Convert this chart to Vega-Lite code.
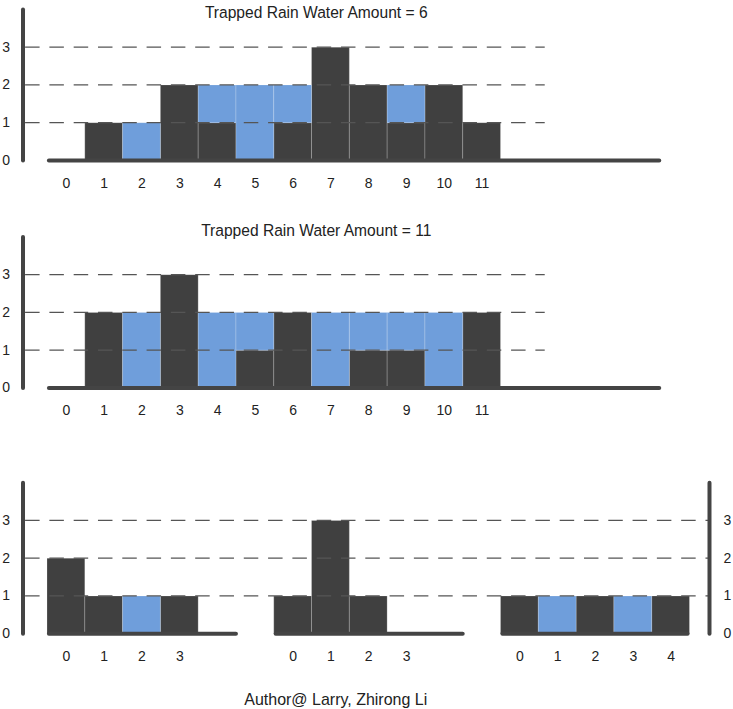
{
  "$schema": "https://vega.github.io/schema/vega-lite/v6.json",
  "background": "white",
  "padding": {"left": 1, "top": 6.4, "right": 0, "bottom": 0},
  "bounds": "flush",
  "spacing": 76.5,
  "config": {
    "view": {"stroke": null},
    "font": "Liberation Sans",
    "axis": {"labelFont": "Liberation Sans", "labelFontSize": 14, "labelColor": "#222", "domain": false, "ticks": false, "tickSize": 0, "grid": false},
    "title": {"font": "Liberation Sans", "fontSize": 15.6, "fontWeight": "normal", "color": "#222"}
  },
  "datasets": {
    "bars": [
      {"panel": "a", "pos": 1, "lo": 0, "hi": 1, "kind": "block"},
      {"panel": "a", "pos": 3, "lo": 0, "hi": 2, "kind": "block"},
      {"panel": "a", "pos": 4, "lo": 0, "hi": 1, "kind": "block"},
      {"panel": "a", "pos": 6, "lo": 0, "hi": 1, "kind": "block"},
      {"panel": "a", "pos": 7, "lo": 0, "hi": 3, "kind": "block"},
      {"panel": "a", "pos": 8, "lo": 0, "hi": 2, "kind": "block"},
      {"panel": "a", "pos": 9, "lo": 0, "hi": 1, "kind": "block"},
      {"panel": "a", "pos": 10, "lo": 0, "hi": 2, "kind": "block"},
      {"panel": "a", "pos": 11, "lo": 0, "hi": 1, "kind": "block"},
      {"panel": "a", "pos": 2, "lo": 0, "hi": 1, "kind": "water"},
      {"panel": "a", "pos": 4, "lo": 1, "hi": 2, "kind": "water"},
      {"panel": "a", "pos": 5, "lo": 0, "hi": 2, "kind": "water"},
      {"panel": "a", "pos": 6, "lo": 1, "hi": 2, "kind": "water"},
      {"panel": "a", "pos": 9, "lo": 1, "hi": 2, "kind": "water"},
      {"panel": "b", "pos": 1, "lo": 0, "hi": 2, "kind": "block"},
      {"panel": "b", "pos": 3, "lo": 0, "hi": 3, "kind": "block"},
      {"panel": "b", "pos": 5, "lo": 0, "hi": 1, "kind": "block"},
      {"panel": "b", "pos": 6, "lo": 0, "hi": 2, "kind": "block"},
      {"panel": "b", "pos": 8, "lo": 0, "hi": 1, "kind": "block"},
      {"panel": "b", "pos": 9, "lo": 0, "hi": 1, "kind": "block"},
      {"panel": "b", "pos": 11, "lo": 0, "hi": 2, "kind": "block"},
      {"panel": "b", "pos": 2, "lo": 0, "hi": 2, "kind": "water"},
      {"panel": "b", "pos": 4, "lo": 0, "hi": 2, "kind": "water"},
      {"panel": "b", "pos": 5, "lo": 1, "hi": 2, "kind": "water"},
      {"panel": "b", "pos": 7, "lo": 0, "hi": 2, "kind": "water"},
      {"panel": "b", "pos": 8, "lo": 1, "hi": 2, "kind": "water"},
      {"panel": "b", "pos": 9, "lo": 1, "hi": 2, "kind": "water"},
      {"panel": "b", "pos": 10, "lo": 0, "hi": 2, "kind": "water"},
      {"panel": "c", "pos": 0, "lo": 0, "hi": 2, "kind": "block"},
      {"panel": "c", "pos": 1, "lo": 0, "hi": 1, "kind": "block"},
      {"panel": "c", "pos": 3, "lo": 0, "hi": 1, "kind": "block"},
      {"panel": "c", "pos": 6, "lo": 0, "hi": 1, "kind": "block"},
      {"panel": "c", "pos": 7, "lo": 0, "hi": 3, "kind": "block"},
      {"panel": "c", "pos": 8, "lo": 0, "hi": 1, "kind": "block"},
      {"panel": "c", "pos": 12, "lo": 0, "hi": 1, "kind": "block"},
      {"panel": "c", "pos": 14, "lo": 0, "hi": 1, "kind": "block"},
      {"panel": "c", "pos": 16, "lo": 0, "hi": 1, "kind": "block"},
      {"panel": "c", "pos": 2, "lo": 0, "hi": 1, "kind": "water"},
      {"panel": "c", "pos": 13, "lo": 0, "hi": 1, "kind": "water"},
      {"panel": "c", "pos": 15, "lo": 0, "hi": 1, "kind": "water"}
    ],
    "grid": [{"level": 1}, {"level": 2}, {"level": 3}],
    "base": [
      {"panel": "a", "from": -0.45, "to": 15.7},
      {"panel": "b", "from": -0.45, "to": 15.7},
      {"panel": "c", "from": -0.45, "to": 4.5},
      {"panel": "c", "from": 5.55, "to": 10.5},
      {"panel": "c", "from": 11.55, "to": 16.45}
    ],
    "one": [{}]
  },
  "vconcat": [
    {
      "width": 686.5,
      "height": 151,
      "title": {"text": "Trapped Rain Water Amount = 6", "frame": "group", "anchor": "middle", "dx": -50, "offset": 0, "baseline": "alphabetic", "dy": 26.6},
      "layer": [
        {
          "data": {"name": "bars"},
          "transform": [{"filter": "datum.panel === 'a'"}],
          "mark": {"type": "bar", "width": 37.8, "stroke": "white", "strokeOpacity": 0.2, "strokeWidth": 1},
          "encoding": {
            "x": {"field": "pos", "type": "quantitative", "scale": {"domain": [-1.135, 17.03], "nice": false, "zero": false, "padding": 0}, "axis": {"values": [0,1,2,3,4,5,6,7,8,9,10,11], "labelPadding": 16, "format": "d", "title": null}},
            "y": {"field": "lo", "type": "quantitative", "scale": {"domain": [0, 4], "nice": false, "zero": false}, "axis": {"values": [0,1,2,3], "labelPadding": 13.5, "format": "d", "title": null}},
            "y2": {"field": "hi"},
            "color": {"field": "kind", "type": "nominal", "scale": {"domain": ["block", "water"], "range": ["#404040", "#6f9edb"]}, "legend": null}
          }
        },
        {
          "data": {"name": "grid"},
          "mark": {"type": "rule", "color": "#555", "strokeWidth": 1.3, "strokeDash": [14.5, 9.8]},
          "encoding": {
            "x": {"datum": -1.08, "type": "quantitative", "axis": {"values": [0,1,2,3,4,5,6,7,8,9,10,11], "labelPadding": 16, "format": "d", "title": null}},
            "x2": {"datum": 12.67},
            "y": {"field": "level", "type": "quantitative", "axis": {"values": [0,1,2,3], "labelPadding": 13.5, "format": "d", "title": null}}
          }
        },
        {
          "data": {"name": "base"},
          "transform": [{"filter": "datum.panel === 'a'"}],
          "mark": {"type": "rule", "color": "#444", "strokeWidth": 4, "strokeCap": "round"},
          "encoding": {
            "x": {"field": "from", "type": "quantitative", "axis": {"values": [0,1,2,3,4,5,6,7,8,9,10,11], "labelPadding": 16, "format": "d", "title": null}},
            "x2": {"field": "to"},
            "y": {"datum": 0, "type": "quantitative", "axis": {"values": [0,1,2,3], "labelPadding": 13.5, "format": "d", "title": null}}
          }
        },
        {
          "data": {"name": "one"},
          "mark": {"type": "rule", "color": "#444", "strokeWidth": 4, "strokeCap": "round"},
          "encoding": {
            "x": {"datum": -1.135, "type": "quantitative", "axis": {"values": [0,1,2,3,4,5,6,7,8,9,10,11], "labelPadding": 16, "format": "d", "title": null}},
            "y": {"datum": 0, "type": "quantitative", "axis": {"values": [0,1,2,3], "labelPadding": 13.5, "format": "d", "title": null}},
            "y2": {"datum": 4}
          }
        }
      ]
    },
    {
      "width": 686.5,
      "height": 151,
      "title": {"text": "Trapped Rain Water Amount = 11", "frame": "group", "anchor": "middle", "dx": -50, "offset": 0, "baseline": "alphabetic", "dy": 16.6},
      "layer": [
        {
          "data": {"name": "bars"},
          "transform": [{"filter": "datum.panel === 'b'"}],
          "mark": {"type": "bar", "width": 37.8, "stroke": "white", "strokeOpacity": 0.2, "strokeWidth": 1},
          "encoding": {
            "x": {"field": "pos", "type": "quantitative", "scale": {"domain": [-1.135, 17.03], "nice": false, "zero": false, "padding": 0}, "axis": {"values": [0,1,2,3,4,5,6,7,8,9,10,11], "labelPadding": 16, "format": "d", "title": null}},
            "y": {"field": "lo", "type": "quantitative", "scale": {"domain": [0, 4], "nice": false, "zero": false}, "axis": {"values": [0,1,2,3], "labelPadding": 13.5, "format": "d", "title": null}},
            "y2": {"field": "hi"},
            "color": {"field": "kind", "type": "nominal", "scale": {"domain": ["block", "water"], "range": ["#404040", "#6f9edb"]}, "legend": null}
          }
        },
        {
          "data": {"name": "grid"},
          "mark": {"type": "rule", "color": "#555", "strokeWidth": 1.3, "strokeDash": [14.5, 9.8]},
          "encoding": {
            "x": {"datum": -1.08, "type": "quantitative", "axis": {"values": [0,1,2,3,4,5,6,7,8,9,10,11], "labelPadding": 16, "format": "d", "title": null}},
            "x2": {"datum": 12.67},
            "y": {"field": "level", "type": "quantitative", "axis": {"values": [0,1,2,3], "labelPadding": 13.5, "format": "d", "title": null}}
          }
        },
        {
          "data": {"name": "base"},
          "transform": [{"filter": "datum.panel === 'b'"}],
          "mark": {"type": "rule", "color": "#444", "strokeWidth": 4, "strokeCap": "round"},
          "encoding": {
            "x": {"field": "from", "type": "quantitative", "axis": {"values": [0,1,2,3,4,5,6,7,8,9,10,11], "labelPadding": 16, "format": "d", "title": null}},
            "x2": {"field": "to"},
            "y": {"datum": 0, "type": "quantitative", "axis": {"values": [0,1,2,3], "labelPadding": 13.5, "format": "d", "title": null}}
          }
        },
        {
          "data": {"name": "one"},
          "mark": {"type": "rule", "color": "#444", "strokeWidth": 4, "strokeCap": "round"},
          "encoding": {
            "x": {"datum": -1.135, "type": "quantitative", "axis": {"values": [0,1,2,3,4,5,6,7,8,9,10,11], "labelPadding": 16, "format": "d", "title": null}},
            "y": {"datum": 0, "type": "quantitative", "axis": {"values": [0,1,2,3], "labelPadding": 13.5, "format": "d", "title": null}},
            "y2": {"datum": 4}
          }
        }
      ]
    },
    {
      "width": 686.5,
      "height": 169.3,
      "title": {"text": "Author@ Larry, Zhirong Li", "orient": "bottom", "frame": "group", "anchor": "middle", "dx": -30.5, "offset": 28, "fontSize": 16},
      "resolve": {"axis": {"y": "independent"}},
      "layer": [
        {
          "data": {"name": "bars"},
          "transform": [{"filter": "datum.panel === 'c'"}],
          "mark": {"type": "bar", "width": 37.8, "stroke": "white", "strokeOpacity": 0.2, "strokeWidth": 1},
          "encoding": {
            "x": {"field": "pos", "type": "quantitative", "scale": {"domain": [-1.135, 17.03], "nice": false, "zero": false, "padding": 0}, "axis": {"values": [0,1,2,3,6,7,8,9,12,13,14,15,16], "labelPadding": 16, "labelExpr": "datum.value >= 12 ? datum.value - 12 : (datum.value >= 6 ? datum.value - 6 : datum.value)", "title": null}},
            "y": {"field": "lo", "type": "quantitative", "scale": {"domain": [0, 4.485], "nice": false, "zero": false}, "axis": {"values": [0,1,2,3], "labelPadding": 13.5, "format": "d", "title": null}},
            "y2": {"field": "hi"},
            "color": {"field": "kind", "type": "nominal", "scale": {"domain": ["block", "water"], "range": ["#404040", "#6f9edb"]}, "legend": null}
          }
        },
        {
          "data": {"name": "grid"},
          "mark": {"type": "rule", "color": "#555", "strokeWidth": 1.3, "strokeDash": [14.5, 9.8]},
          "encoding": {
            "x": {"datum": -1.08, "type": "quantitative", "axis": {"values": [0,1,2,3,6,7,8,9,12,13,14,15,16], "labelPadding": 16, "labelExpr": "datum.value >= 12 ? datum.value - 12 : (datum.value >= 6 ? datum.value - 6 : datum.value)", "title": null}},
            "x2": {"datum": 17.03},
            "y": {"field": "level", "type": "quantitative", "axis": null}
          }
        },
        {
          "data": {"name": "base"},
          "transform": [{"filter": "datum.panel === 'c'"}],
          "mark": {"type": "rule", "color": "#444", "strokeWidth": 4, "strokeCap": "round"},
          "encoding": {
            "x": {"field": "from", "type": "quantitative", "axis": {"values": [0,1,2,3,6,7,8,9,12,13,14,15,16], "labelPadding": 16, "labelExpr": "datum.value >= 12 ? datum.value - 12 : (datum.value >= 6 ? datum.value - 6 : datum.value)", "title": null}},
            "x2": {"field": "to"},
            "y": {"datum": 0, "type": "quantitative", "axis": null}
          }
        },
        {
          "data": {"name": "one"},
          "mark": {"type": "rule", "color": "#444", "strokeWidth": 4, "strokeCap": "round"},
          "encoding": {
            "x": {"datum": -1.135, "type": "quantitative", "axis": {"values": [0,1,2,3,6,7,8,9,12,13,14,15,16], "labelPadding": 16, "labelExpr": "datum.value >= 12 ? datum.value - 12 : (datum.value >= 6 ? datum.value - 6 : datum.value)", "title": null}},
            "y": {"datum": 0, "type": "quantitative", "axis": null},
            "y2": {"datum": 4}
          }
        },
        {
          "data": {"name": "one"},
          "mark": {"type": "rule", "color": "#444", "strokeWidth": 4, "strokeCap": "round"},
          "encoding": {
            "x": {"datum": 17.03, "type": "quantitative", "axis": {"values": [0,1,2,3,6,7,8,9,12,13,14,15,16], "labelPadding": 16, "labelExpr": "datum.value >= 12 ? datum.value - 12 : (datum.value >= 6 ? datum.value - 6 : datum.value)", "title": null}},
            "y": {"datum": 0, "type": "quantitative", "axis": {"orient": "right", "values": [0,1,2,3], "labelPadding": 13.5, "format": "d", "title": null}},
            "y2": {"datum": 4}
          }
        }
      ]
    }
  ]
}
